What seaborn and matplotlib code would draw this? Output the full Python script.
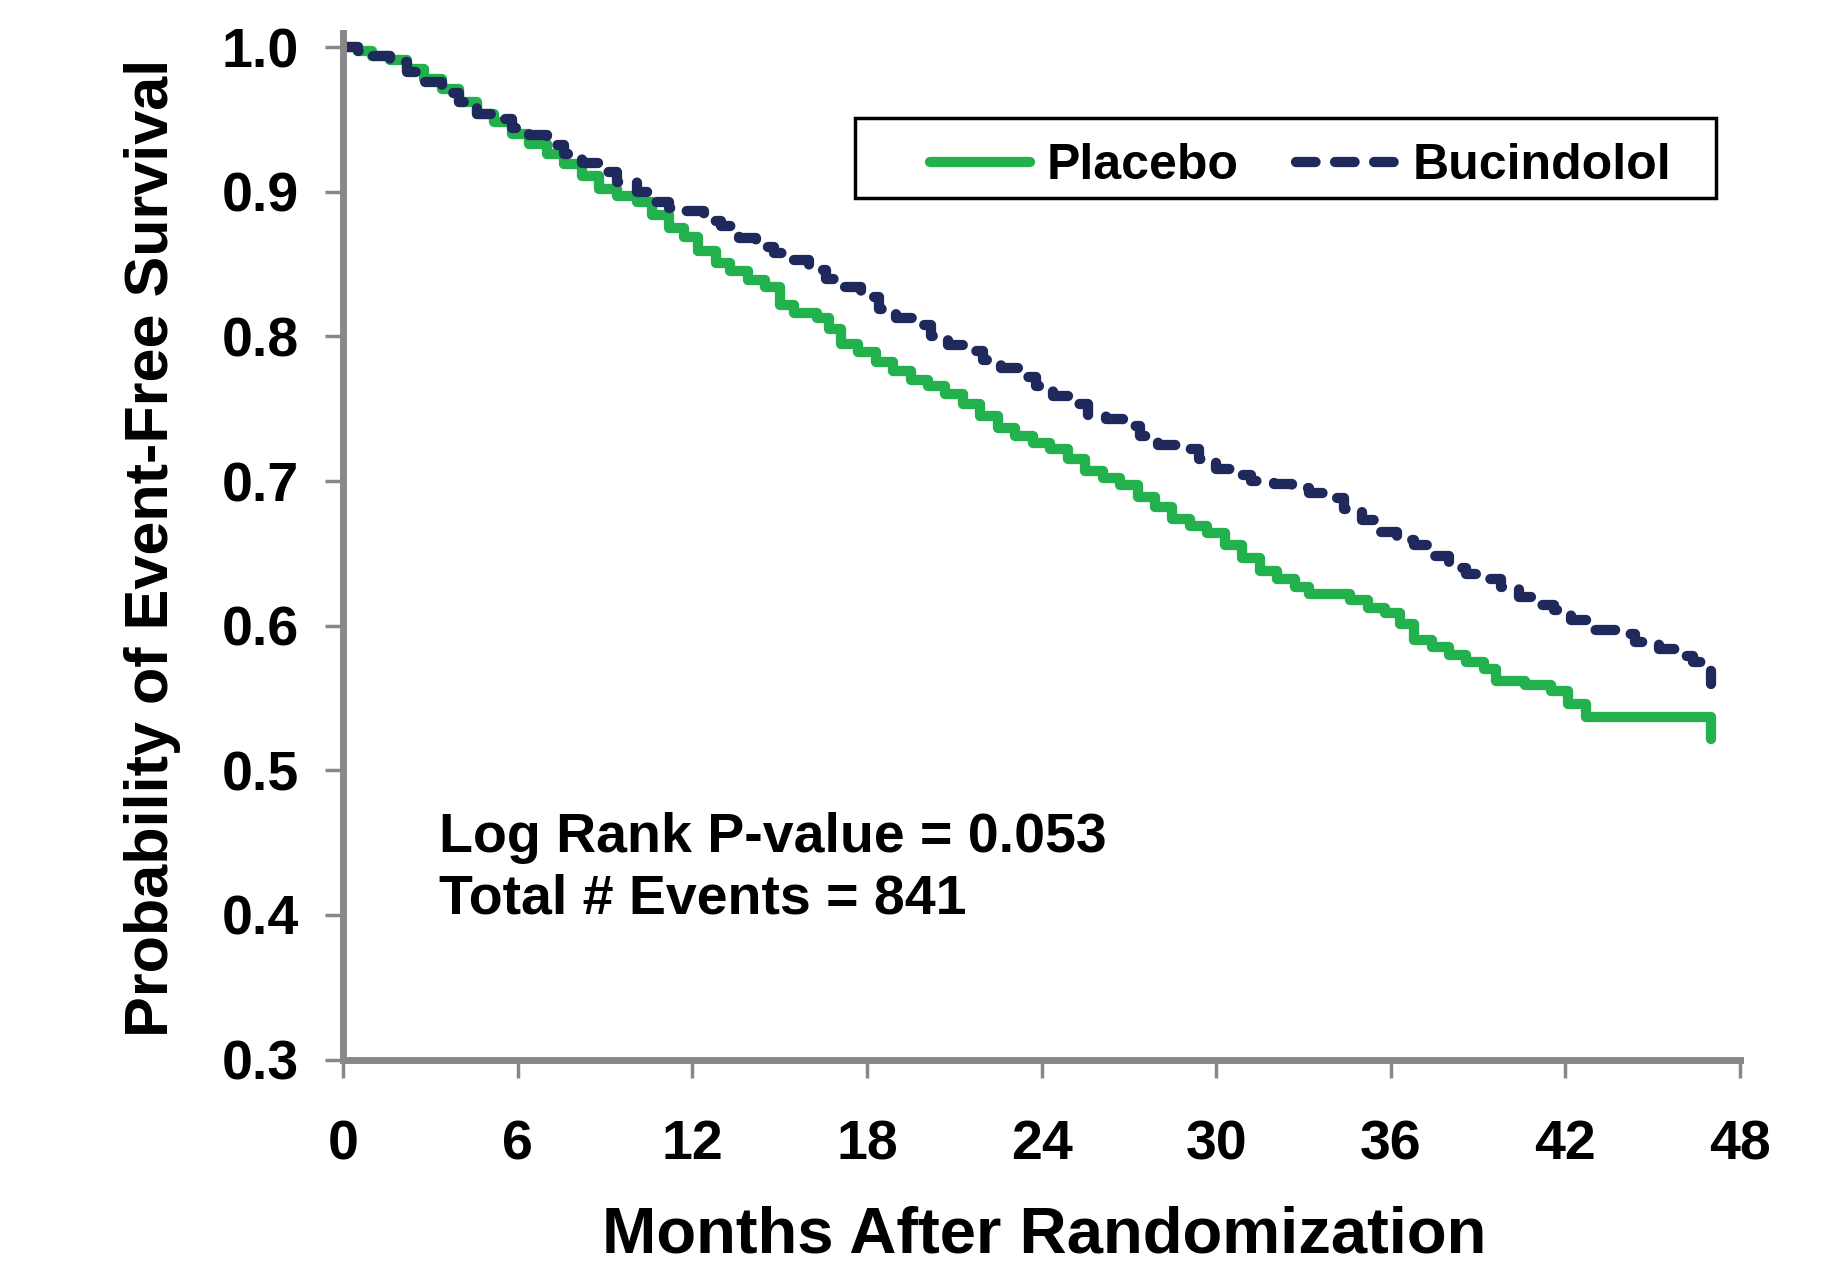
import matplotlib
matplotlib.use("Agg")
import matplotlib.pyplot as plt
import seaborn as sns
from matplotlib.patches import Rectangle

# Kaplan-Meier estimates
months_placebo = [0, 0.5, 1.0, 1.6, 2.2, 2.8, 3.4, 4.0, 4.6, 5.2, 5.8, 6.4, 7.0, 7.6,
                  8.2, 8.8, 9.4, 10.1, 10.6, 11.2, 11.7, 12.2, 12.8, 13.3, 13.9, 14.5,
                  15.0, 15.5, 16.3, 16.7, 17.1, 17.7, 18.3, 18.9, 19.5, 20.1, 20.7, 21.3,
                  21.9, 22.5, 23.1, 23.7, 24.3, 24.9, 25.5, 26.1, 26.7, 27.3, 27.9, 28.5,
                  29.1, 29.7, 30.3, 30.9, 31.5, 32.1, 32.7, 33.2, 34.6, 35.2, 35.8, 36.3,
                  36.8, 37.4, 38.0, 38.6, 39.2, 39.6, 40.6, 41.5, 42.1, 42.7, 47.0]
surv_placebo = [1.000, 0.997, 0.994, 0.991, 0.985, 0.978, 0.971, 0.962, 0.954, 0.948, 0.940,
                0.933, 0.926, 0.919, 0.911, 0.902, 0.897, 0.893, 0.884, 0.875, 0.869, 0.859,
                0.851, 0.845, 0.839, 0.834, 0.822, 0.816, 0.813, 0.805, 0.795, 0.789, 0.782,
                0.776, 0.770, 0.766, 0.760, 0.753, 0.745, 0.737, 0.731, 0.726, 0.722, 0.715,
                0.707, 0.702, 0.697, 0.689, 0.682, 0.674, 0.669, 0.664, 0.656, 0.647, 0.638,
                0.632, 0.627, 0.622, 0.618, 0.612, 0.609, 0.601, 0.590, 0.585, 0.580, 0.575,
                0.570, 0.562, 0.559, 0.555, 0.546, 0.537, 0.522]

months_bucindolol = [0, 0.5, 1.0, 1.6, 2.2, 2.8, 3.4, 4.0, 4.6, 5.2, 5.8, 6.4, 7.0, 7.6,
                     8.2, 8.8, 9.4, 10.1, 10.6, 11.2, 11.8, 12.4, 13.0, 13.6, 14.2, 14.8,
                     15.4, 16.0, 16.6, 17.2, 17.8, 18.4, 19.0, 19.6, 20.2, 20.8, 21.4, 22.0,
                     22.6, 23.2, 23.8, 24.4, 25.0, 25.6, 26.2, 26.8, 27.4, 28.0, 28.8, 29.4,
                     30.0, 30.6, 31.2, 32.0, 32.6, 33.2, 33.8, 34.4, 35.0, 35.6, 36.2, 36.8,
                     37.4, 38.0, 38.6, 39.2, 39.8, 40.4, 41.0, 41.6, 42.2, 42.8, 43.8, 44.4,
                     45.2, 45.8, 46.4, 47.0]
surv_bucindolol = [1.000, 0.997, 0.994, 0.990, 0.983, 0.976, 0.968, 0.962, 0.954, 0.950, 0.944,
                   0.939, 0.932, 0.926, 0.920, 0.914, 0.907, 0.900, 0.893, 0.889, 0.887, 0.880,
                   0.876, 0.868, 0.862, 0.858, 0.853, 0.846, 0.840, 0.834, 0.827, 0.819, 0.813,
                   0.808, 0.800, 0.794, 0.790, 0.784, 0.778, 0.772, 0.766, 0.759, 0.753, 0.746,
                   0.743, 0.738, 0.731, 0.725, 0.722, 0.715, 0.708, 0.704, 0.700, 0.698, 0.695,
                   0.692, 0.688, 0.681, 0.673, 0.665, 0.659, 0.656, 0.648, 0.640, 0.636, 0.632,
                   0.627, 0.620, 0.614, 0.611, 0.604, 0.597, 0.594, 0.589, 0.584, 0.579, 0.575,
                   0.560]

x_ticks = [0, 6, 12, 18, 24, 30, 36, 42, 48]
y_ticks = [0.3, 0.4, 0.5, 0.6, 0.7, 0.8, 0.9, 1.0]
stats_lines = ["Log Rank P-value = 0.053", "Total # Events = 841"]

GREEN = "#22b14c"
NAVY = "#1f295c"
GRAY = "#888888"

sns.set_style("ticks")
plt.rcParams["font.family"] = ["Liberation Sans", "DejaVu Sans"]
plt.rcParams["font.weight"] = "bold"
plt.rcParams["text.color"] = "black"
plt.rcParams["axes.labelcolor"] = "black"

fig = plt.figure(figsize=(18.47, 12.71), dpi=100)
ax = fig.add_axes([0.1857, 0.1663, 0.7564, 0.808])

sns.lineplot(x=months_placebo, y=surv_placebo, ax=ax, color=GREEN, lw=7.4,
             estimator=None, sort=False, drawstyle="steps-post",
             solid_capstyle="round", solid_joinstyle="round", label="Placebo")
sns.lineplot(x=months_bucindolol, y=surv_bucindolol, ax=ax, color=NAVY, lw=7.4,
             estimator=None, sort=False, drawstyle="steps-post",
             linestyle=(0, (1.9, 1.9)), dash_capstyle="round", dash_joinstyle="round",
             label="Bucindolol")

ax.set_xlim(0, 48)
ax.set_ylim(0.3, 1.01)
ax.set_xticks(x_ticks)
ax.set_xticklabels([str(t) for t in x_ticks])
ax.set_yticks(y_ticks)
ax.set_yticklabels([f"{t:.1f}" for t in y_ticks])

sns.despine(ax=ax)
for side in ["left", "bottom"]:
    ax.spines[side].set_color(GRAY)
    ax.spines[side].set_linewidth(5)
ax.tick_params(axis="both", direction="out", length=13, width=2.5, color=GRAY,
               labelsize=40, labelcolor="black")
ax.tick_params(axis="x", pad=30)
ax.tick_params(axis="y", pad=19)
for lab in ax.get_xticklabels() + ax.get_yticklabels():
    lab.set_fontweight("bold")

ax.set_xlabel("Months After Randomization", fontsize=47, fontweight="bold")
ax.set_ylabel("Probability of Event-Free Survival", fontsize=44, fontweight="bold")
ax.xaxis.set_label_coords(0.502, -0.142)
ax.yaxis.set_label_coords(-0.116, 0.498)

ax.text(3.3, 0.4435, stats_lines[0], fontsize=40, fontweight="bold", va="baseline")
ax.text(3.3, 0.4012, stats_lines[1], fontsize=40, fontweight="bold", va="baseline")

# legend entries without frame, the box is drawn separately
ax.legend(loc="center left", bbox_to_anchor=(0.420, 0.870), ncol=2, frameon=False,
          handlelength=2.0, handletextpad=0.33, columnspacing=1.15,
          borderpad=0, borderaxespad=0, prop={"weight": "bold", "size": 36})
ax.add_patch(Rectangle((0.3665, 0.839), 0.6163, 0.078, transform=ax.transAxes,
                       fill=False, edgecolor="black", linewidth=2.5, clip_on=False))

fig.savefig("out.png", dpi=100)
